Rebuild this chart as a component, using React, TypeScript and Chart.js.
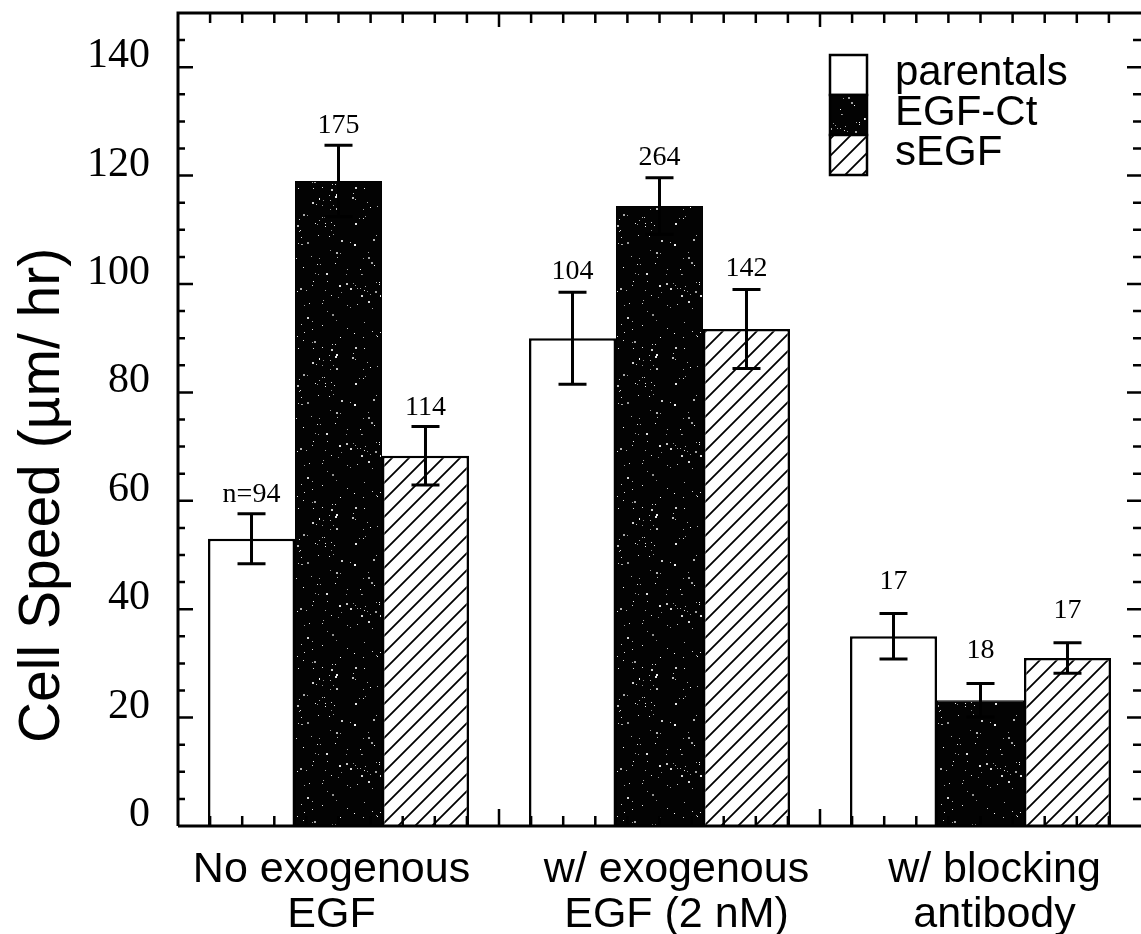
import React, { useEffect, useRef } from "react";
import { Chart, registerables } from "chart.js";

Chart.register(...registerables);

// ---------- data ----------
const categories: string[][] = [
  ["No exogenous", "EGF"],
  ["w/ exogenous", "EGF (2 nM)"],
  ["w/ blocking", "antibody"],
];
const seriesNames = ["parentals", "EGF-Ct", "sEGF"];

const parentalsMean = [53, 90, 35];
const parentalsErr = [4.6, 8.5, 4.2];
const egfCtMean = [119, 114.4, 23.2];
const egfCtErr = [6.6, 5.2, 3.1];
const sEgfMean = [68.3, 91.7, 31];
const sEgfErr = [5.4, 7.3, 2.8];

const parentalsN = ["n=94", "104", "17"];
const egfCtN = ["175", "264", "18"];
const sEgfN = ["114", "142", "17"];

const yMin = 0;
const yMax = 150;
const yMajorStep = 20;
const yMinorStep = 5;

const yTitle = "Cell Speed (\u00b5m/ hr)";

// ---------- layout / style ----------
const W = 1141;
const H = 934;
const SANS = '"Liberation Sans", Arial, Helvetica, sans-serif';
const SERIF = '"Liberation Serif", "Times New Roman", serif';
const catLabelNudge = [-7, 17, 14];
const nLabelGap = [12, 13, 25];

function makeSpeckle(): CanvasPattern | string {
  const size = 160;
  const c = document.createElement("canvas");
  c.width = size;
  c.height = size;
  const g = c.getContext("2d");
  if (!g) return "#000";
  g.fillStyle = "#030303";
  g.fillRect(0, 0, size, size);
  let a = 0x9e3779b9;
  const rnd = () => {
    a |= 0;
    a = (a + 0x6d2b79f5) | 0;
    let t = Math.imul(a ^ (a >>> 15), 1 | a);
    t = (t + Math.imul(t ^ (t >>> 7), 61 | t)) ^ t;
    return ((t ^ (t >>> 14)) >>> 0) / 4294967296;
  };
  for (let i = 0; i < 260; i++) {
    const x = Math.floor(rnd() * size);
    const y = Math.floor(rnd() * size);
    const sz = rnd() < 0.25 ? 2 : 1;
    const shade = 140 + Math.floor(rnd() * 115);
    g.fillStyle = `rgb(${shade},${shade},${shade})`;
    g.fillRect(x, y, sz, sz);
  }
  const p = g.createPattern(c, "repeat");
  return p || "#000";
}

function makeHatch(): CanvasPattern | string {
  const n = 17;
  const c = document.createElement("canvas");
  c.width = n;
  c.height = n;
  const g = c.getContext("2d");
  if (!g) return "#fff";
  g.fillStyle = "#fff";
  g.fillRect(0, 0, n, n);
  g.strokeStyle = "#000";
  g.lineWidth = 1.8;
  g.beginPath();
  g.moveTo(-2, n + 2);
  g.lineTo(n + 2, -2);
  g.moveTo(-3, 3);
  g.lineTo(3, -3);
  g.moveTo(n - 3, n + 3);
  g.lineTo(n + 3, n - 3);
  g.stroke();
  const p = g.createPattern(c, "repeat");
  return p || "#fff";
}

export default function App() {
  const ref = useRef<HTMLCanvasElement | null>(null);

  useEffect(() => {
    document.body.style.margin = "0";
    const canvas = ref.current;
    if (!canvas) return;

    const errs = [parentalsErr, egfCtErr, sEgfErr];
    const nLabels = [parentalsN, egfCtN, sEgfN];

    const overlay = {
      id: "overlay",
      afterDatasetsDraw(chart: any) {
        const ctx: CanvasRenderingContext2D = chart.ctx;
        const ys = chart.scales.y;
        const xs = chart.scales.x;
        const ca = chart.chartArea;
        ctx.save();

        // error bars and n labels
        chart.data.datasets.forEach((ds: any, di: number) => {
          const meta = chart.getDatasetMeta(di);
          meta.data.forEach((el: any, i: number) => {
            const v = ds.data[i] as number;
            const e = errs[di][i];
            const yt = ys.getPixelForValue(v + e);
            const yb = ys.getPixelForValue(v - e);
            const x = el.x;
            ctx.strokeStyle = "#000";
            ctx.lineWidth = 3;
            ctx.lineCap = "butt";
            ctx.beginPath();
            ctx.moveTo(x, yt);
            ctx.lineTo(x, yb);
            ctx.moveTo(x - 14, yt);
            ctx.lineTo(x + 14, yt);
            ctx.moveTo(x - 14, yb);
            ctx.lineTo(x + 14, yb);
            ctx.stroke();
            ctx.fillStyle = "#000";
            ctx.font = `28px ${SERIF}`;
            ctx.textAlign = "center";
            ctx.textBaseline = "alphabetic";
            ctx.fillText(nLabels[di][i], x, yt - nLabelGap[i]);
          });
        });

        // frame
        const catW = xs.getPixelForValue(1) - xs.getPixelForValue(0);
        const x0 = xs.getPixelForValue(0) - catW / 2;
        ctx.strokeStyle = "#000";
        ctx.lineWidth = 3;
        ctx.beginPath();
        ctx.moveTo(ca.left, ca.bottom);
        ctx.lineTo(ca.left, ca.top);
        ctx.lineTo(ca.right + 2, ca.top);
        ctx.moveTo(ca.left, ca.bottom);
        ctx.lineTo(ca.right + 2, ca.bottom);
        ctx.stroke();

        // y ticks (left and right), inward
        ctx.lineWidth = 2.5;
        ctx.beginPath();
        for (let v = yMin + yMinorStep; v < yMax; v += yMinorStep) {
          const py = ys.getPixelForValue(v);
          const major = v % yMajorStep === 0;
          const lenL = major ? 15 : 7;
          const lenR = major ? 14 : 8;
          ctx.moveTo(ca.left, py);
          ctx.lineTo(ca.left + lenL, py);
          ctx.moveTo(ca.right, py);
          ctx.lineTo(ca.right - lenR, py);
        }
        // x ticks (top and bottom), inward, 10 per category
        const nCat = categories.length;
        for (let k = 1; k < nCat * 10; k++) {
          const px = x0 + (k * catW) / 10;
          const major = k % 10 === 0;
          ctx.moveTo(px, ca.top);
          ctx.lineTo(px, ca.top + (major ? 14 : 10));
          ctx.moveTo(px, ca.bottom);
          ctx.lineTo(px, ca.bottom - (major ? 17 : 10));
        }
        ctx.stroke();

        // category labels
        ctx.fillStyle = "#000";
        ctx.font = `43px ${SANS}`;
        ctx.textAlign = "center";
        ctx.textBaseline = "alphabetic";
        categories.forEach((lines, i) => {
          const cx = xs.getPixelForValue(i) + catLabelNudge[i];
          lines.forEach((t, li) => {
            ctx.fillText(t, cx, ca.bottom + 56 + li * 45);
          });
        });

        // y title
        ctx.save();
        ctx.translate(43, ys.getPixelForValue(61));
        ctx.rotate(-Math.PI / 2);
        ctx.font = `57px ${SANS}`;
        ctx.textAlign = "center";
        ctx.textBaseline = "middle";
        ctx.fillText(yTitle, 0, 0);
        ctx.restore();

        // legend
        const bx = ca.right - 311;
        const by = ca.top + 42;
        chart.data.datasets.forEach((ds: any, di: number) => {
          const top = by + di * 40;
          ctx.fillStyle = ds.backgroundColor;
          ctx.fillRect(bx, top, 37, 40);
          ctx.strokeStyle = "#000";
          ctx.lineWidth = 2.5;
          ctx.strokeRect(bx, top, 37, 40);
          ctx.fillStyle = "#000";
          ctx.font = `42px ${SANS}`;
          ctx.textAlign = "left";
          ctx.textBaseline = "alphabetic";
          ctx.fillText(ds.label, bx + 65, top + 30);
        });

        ctx.restore();
      },
    };

    const chart = new Chart(canvas, {
      type: "bar",
      data: {
        labels: categories.map((c) => c.join(" ")),
        datasets: [
          {
            label: seriesNames[0],
            data: parentalsMean,
            backgroundColor: "#ffffff",
            borderColor: "#000",
            borderWidth: 2.5,
          },
          {
            label: seriesNames[1],
            data: egfCtMean,
            backgroundColor: makeSpeckle() as any,
            borderColor: "#000",
            borderWidth: 1,
          },
          {
            label: seriesNames[2],
            data: sEgfMean,
            backgroundColor: makeHatch() as any,
            borderColor: "#000",
            borderWidth: 2.5,
          },
        ],
      },
      options: {
        animation: false,
        responsive: false,
        events: [],
        datasets: {
          bar: { categoryPercentage: 0.813, barPercentage: 1 },
        },
        layout: { padding: { top: 13, left: 0, right: 0, bottom: 0 } },
        plugins: {
          legend: { display: false },
          tooltip: { enabled: false },
          title: { display: false },
        },
        scales: {
          x: {
            grid: { display: false },
            border: { display: false },
            ticks: { display: false },
            afterFit: (s: any) => {
              s.height = H - 826;
              s.paddingLeft = 0;
              s.paddingRight = 0;
            },
          },
          y: {
            min: yMin,
            max: yMax,
            grid: { display: false, drawTicks: false },
            border: { display: false },
            ticks: {
              stepSize: yMajorStep,
              includeBounds: false,
              padding: 28,
              labelOffset: -11,
              color: "#000",
              font: { family: SERIF, size: 42 },
            },
            afterFit: (s: any) => {
              s.width = 178;
              s.paddingTop = 0;
              s.paddingBottom = 0;
            },
          },
        },
      },
      plugins: [overlay],
    } as any);

    return () => chart.destroy();
  }, []);

  return (
    <div style={{ width: W, height: H, background: "#fff" }}>
      <canvas ref={ref} width={W} height={H} style={{ display: "block", width: W, height: H }} />
    </div>
  );
}
